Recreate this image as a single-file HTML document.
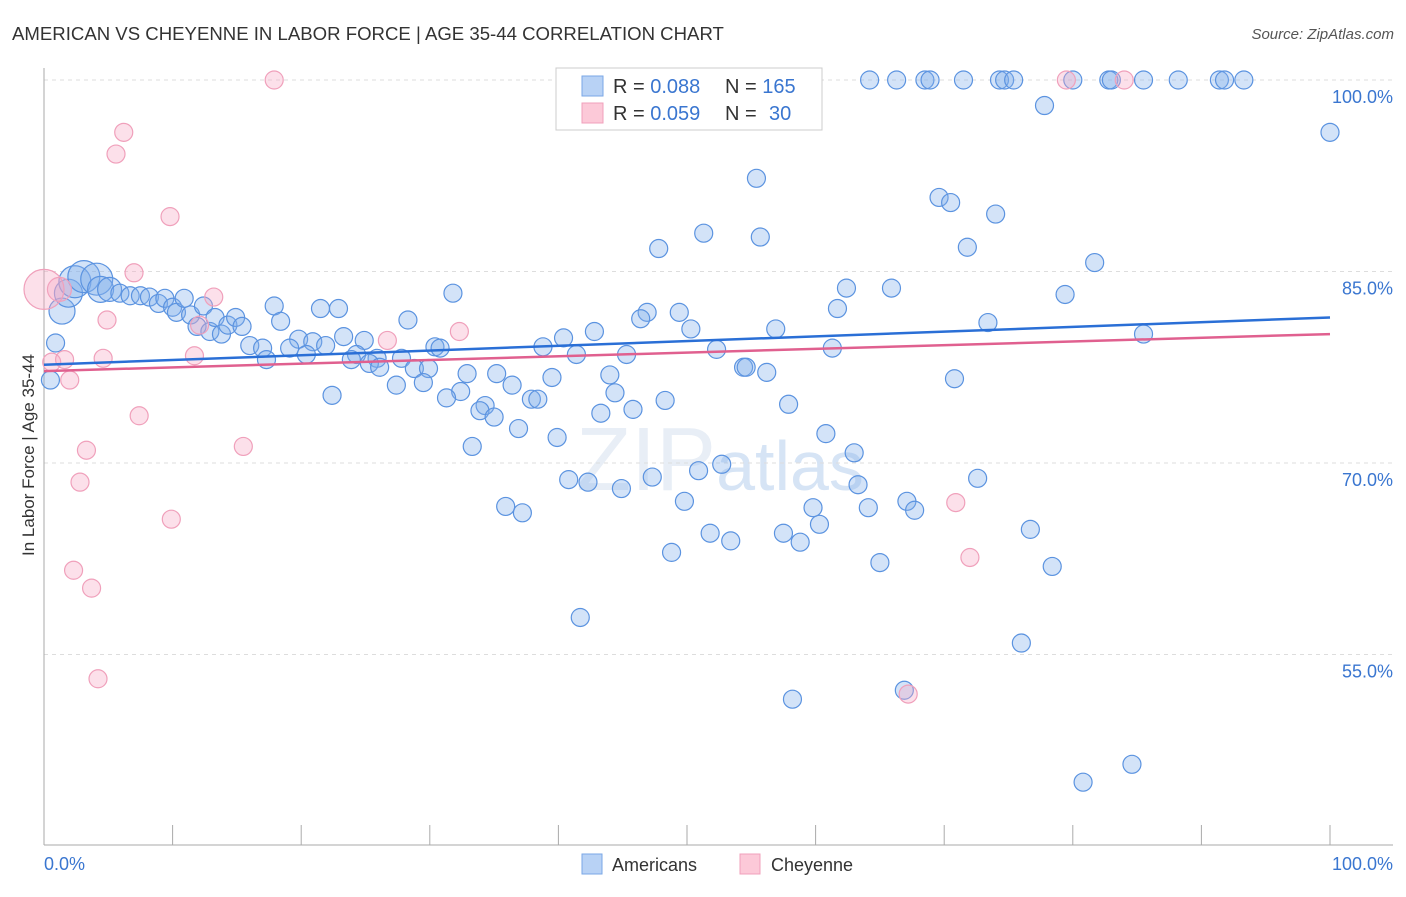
<!DOCTYPE html>
<html><head><meta charset="utf-8"><style>
body{margin:0;background:#fff;font-family:"Liberation Sans",sans-serif;}
svg text{font-family:"Liberation Sans",sans-serif;}
</style></head><body>
<svg id="chart" width="1406" height="892" xmlns="http://www.w3.org/2000/svg">
<text x="12" y="40" font-size="18.6" fill="#333">AMERICAN VS CHEYENNE IN LABOR FORCE | AGE 35-44 CORRELATION CHART</text>
<text x="1394" y="39" font-size="15" fill="#555" font-style="italic" text-anchor="end">Source: ZipAtlas.com</text>
<text x="720" y="490" font-size="90" fill="#e8eef6" text-anchor="middle" font-family="Liberation Serif">ZIP<tspan fill="#d6e4f5" font-family="Liberation Sans" font-size="70">atlas</tspan></text>
<g id="grid"></g>
<g id="axes"></g>
<g id="pts"></g>
<g id="lines"></g>
<text transform="translate(34,455) rotate(-90)" font-size="17" fill="#333" text-anchor="middle">In Labor Force | Age 35-44</text>
<text x="44" y="870" font-size="18" fill="#3a76d0">0.0%</text>
<text x="1393" y="870" font-size="18" fill="#3a76d0" text-anchor="end">100.0%</text>
<g>
<rect x="556" y="68" width="266" height="62" fill="#fff" stroke="#ccc"/>
<rect x="582" y="76" width="21" height="20" fill="#b8d2f5" stroke="#7aa7e6"/>
<rect x="582" y="103" width="21" height="20" fill="#fcc9d8" stroke="#f0a0bb"/>
<text x="613" y="93" font-size="20" fill="#333">R = <tspan fill="#3a76d0">0.088</tspan></text>
<text x="725" y="93" font-size="20" fill="#333">N = <tspan fill="#3a76d0">165</tspan></text>
<text x="613" y="120" font-size="20" fill="#333">R = <tspan fill="#3a76d0">0.059</tspan></text>
<text x="725" y="120" font-size="20" fill="#333">N = <tspan fill="#3a76d0" x="769">30</tspan></text>
</g>
<g><rect x="582" y="854" width="20" height="20" fill="#b8d2f5" stroke="#7aa7e6"/><text x="612" y="871" font-size="18" fill="#333">Americans</text></g>
<g><rect x="740" y="854" width="20" height="20" fill="#fcc9d8" stroke="#f0a0bb"/><text x="771" y="871" font-size="18" fill="#333">Cheyenne</text></g>
</svg>
<script>
const yTicks=[100,85,70,55];
const yTickLabels=["100.0%","85.0%","70.0%","55.0%"];
const xTicks=[0,10,20,30,40,50,60,70,80,90,100];
const americans=[[64.2,100],[66.3,100],[68.5,100],[68.9,100],[71.5,100],[74.3,100],[74.7,100],[75.4,100],[80.0,100],[82.8,100],[83.0,100],[85.5,100],[88.2,100],[91.4,100],[91.8,100],[93.3,100],
[77.8,98.0],[100,95.9],[55.4,92.3],[69.6,90.8],[70.5,90.4],[74.0,89.5],[51.3,88.0],[55.7,87.7],[47.8,86.8],[71.8,86.9],[81.7,85.7],
[31.8,83.3],[62.4,83.7],[65.9,83.7],[79.4,83.2],[17.9,82.3],[21.5,82.1],[22.9,82.1],[61.7,82.1],[46.9,81.8],[49.4,81.8],[46.4,81.3],[28.3,81.2],[18.4,81.1],
[73.4,81.0],[50.3,80.5],[56.9,80.5],[42.8,80.3],[85.5,80.1],[23.3,79.9],[24.9,79.6],[19.8,79.7],[20.9,79.5],[40.4,79.8],[38.8,79.1],[52.3,78.9],[61.3,79.0],
[30.4,79.1],[30.8,79.0],[21.9,79.2],[19.1,79.0],[20.4,78.5],[41.4,78.5],[45.3,78.5],[16.0,79.2],[17.0,79.0],[17.3,78.1],[24.3,78.5],[23.9,78.1],[25.9,78.2],[25.3,77.8],[26.1,77.5],[27.8,78.2],
[28.8,77.4],[29.9,77.4],[54.4,77.5],[54.6,77.5],[56.2,77.1],[32.9,77.0],[35.2,77.0],[39.5,76.7],[44.0,76.9],[70.8,76.6],[27.4,76.1],[29.5,76.3],[36.4,76.1],
[44.4,75.5],[22.4,75.3],[32.4,75.6],[31.3,75.1],[37.9,75.0],[38.4,75.0],[48.3,74.9],[57.9,74.6],[34.3,74.5],[33.9,74.1],[35.0,73.6],[43.3,73.9],[45.8,74.2],
[36.9,72.7],[60.8,72.3],[39.9,72.0],[33.3,71.3],[63.0,70.8],[52.7,69.9],[50.9,69.4],[72.6,68.8],[40.8,68.7],[42.3,68.5],[47.3,68.9],[63.3,68.3],
[44.9,68.0],[49.8,67.0],[67.1,67.0],[67.7,66.3],[35.9,66.6],[37.2,66.1],[59.8,66.5],[64.1,66.5],[60.3,65.2],[76.7,64.8],[51.8,64.5],[53.4,63.9],[57.5,64.5],[58.8,63.8],
[48.8,63.0],[65.0,62.2],[78.4,61.9],[41.7,57.9],[76.0,55.9],[66.9,52.2],[58.2,51.5],[84.6,46.4],[80.8,45.0],
[0.5,76.5],[0.9,79.4],[1.4,81.9],[1.9,83.3],[2.4,84.2],[3.1,84.6],[4.1,84.4],[4.4,83.6],[5.1,83.6],[5.9,83.3],[6.7,83.1],[7.5,83.1],[8.2,83.0],[8.9,82.5],[9.4,82.9],[10.0,82.2],[10.3,81.8],[10.9,82.9],[11.4,81.6],[11.9,80.7],[12.4,82.3],[12.9,80.3],[13.3,81.4],[13.8,80.1],[14.3,80.8],[14.9,81.4],[15.4,80.7]];
const americansBig=[[1.4,81.9,13],[1.9,83.3,14],[2.4,84.2,16],[3.1,84.6,16],[4.1,84.4,16],[4.4,83.6,13],[5.1,83.6,12]];
const cheyenne=[[1.2,83.6],[0.6,77.9],[1.6,78.1],[2.0,76.5],[4.9,81.2],[4.6,78.2],[3.3,71.0],[2.8,68.5],[2.3,61.6],[3.7,60.2],[4.2,53.1],[5.6,94.2],[6.2,95.9],[9.8,89.3],[7.0,84.9],[7.4,73.7],[9.9,65.6],[11.7,78.4],[12.1,80.8],[13.2,83.0],[15.5,71.3],[17.9,100],[26.7,79.6],[32.3,80.3],[67.2,51.9],[70.9,66.9],[72.0,62.6],[79.5,100],[84.0,100]];
const cheyenneBig=[[0,83.6,20],[1.2,83.6,12]];
const trendAmericans=[77.7,81.4];
const trendCheyenne=[77.2,80.1];
const X=v=>44+v*12.86, Y=v=>80+(100-v)*12.767;
const NS="http://www.w3.org/2000/svg";
function mk(t,p,parent){const e=document.createElementNS(NS,t);for(const k in p)e.setAttribute(k,p[k]);document.getElementById(parent).appendChild(e);return e;}
yTicks.forEach((v,i)=>{
 const l=mk('line',{x1:44,x2:1393,y1:Y(v),y2:Y(v),stroke:'#ddd','stroke-dasharray':'4,4'},'grid');
 
 
 const t=mk('text',{x:1393,y:Y(v)+23,'font-size':18,fill:'#3a76d0','text-anchor':'end'},'grid');
 t.textContent=yTickLabels[i];
 
 
});
let a=mk('line',{x1:44,x2:44,y1:68,y2:845,stroke:'#aaa'},'axes');


a=mk('line',{x1:44,x2:1393,y1:845,y2:845,stroke:'#aaa'},'axes');


xTicks.forEach(v=>{const t=mk('line',{x1:X(v),x2:X(v),y1:825,y2:845,stroke:'#aaa'},'axes');
 
 });
function pts(arr,big,fill,stroke,name){
 const bm={};big.forEach(b=>bm[b[0]+','+b[1]]=b[2]);
 arr.concat(big.filter(b=>!arr.some(p=>p[0]==b[0]&&p[1]==b[1]))).forEach(p=>{
  const r=bm[p[0]+','+p[1]]||9;
  const c=mk('circle',{cx:X(p[0]),cy:Y(p[1]),r:r,fill:fill,stroke:stroke,'stroke-width':1.2},'pts');
  
  
 });
}
pts(americans,americansBig,'rgba(130,175,235,0.35)','#5b93e0','americans-point');
pts(cheyenne,cheyenneBig,'rgba(245,165,195,0.35)','#f0a0bb','cheyenne-point');
let t1=mk('line',{x1:X(0),x2:X(100),y1:Y(trendAmericans[0]),y2:Y(trendAmericans[1]),stroke:'#2a6fd6','stroke-width':2.5},'lines');


let t2=mk('line',{x1:X(0),x2:X(100),y1:Y(trendCheyenne[0]),y2:Y(trendCheyenne[1]),stroke:'#e0608f','stroke-width':2.5},'lines');


</script>
</body></html>
